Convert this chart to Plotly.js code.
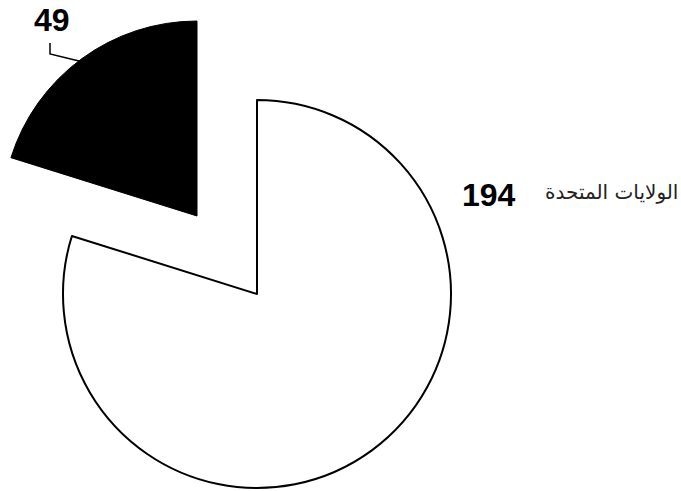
<!DOCTYPE html>
<html>
<head>
<meta charset="utf-8">
<script src="https://cdn.plot.ly/plotly-3.0.1.min.js"></script>
<style>html,body{margin:0;padding:0;background:#fff;overflow:hidden}#chart{width:681px;height:491px}</style>
</head>
<body>
<div id="chart"></div>
<script>
// Data
const labels = ['الولايات المتحدة', 'أخرى'];
const values = [194, 49];
const sliceColors = ['#ffffff', '#000000'];

const W = 681, H = 491;
// pixel helpers for layout placement
function dom(cx, cy, r) {
  return {x: [(cx - r) / W, (cx + r) / W], y: [1 - (cy + r) / H, 1 - (cy - r) / H]};
}

const clear = 'rgba(0,0,0,0)';
const main = {
  type: 'pie', labels: labels, values: values, sort: false,
  direction: 'clockwise', rotation: 0, textinfo: 'none', hoverinfo: 'label+value',
  marker: {colors: [sliceColors[0], clear], line: {color: ['#000', clear], width: [2, 0]}},
  domain: dom(257, 294, 194), showlegend: false
};
const pulled = {
  type: 'pie', labels: labels, values: values, sort: false,
  direction: 'clockwise', rotation: 0, textinfo: 'none', hoverinfo: 'label+value',
  marker: {colors: [clear, sliceColors[1]], line: {color: [clear, '#000'], width: [0, 1]}},
  domain: dom(197, 216, 195), showlegend: false
};

const px = (x) => x / W, py = (y) => 1 - y / H;
const layout = {
  width: W, height: H,
  margin: {l: 0, r: 0, t: 0, b: 0},
  paper_bgcolor: '#fff',
  showlegend: false,
  annotations: [
    {xref: 'paper', yref: 'paper', x: px(52), y: py(20), text: '<b>' + values[1] + '</b>', showarrow: false,
     xanchor: 'center', yanchor: 'middle', font: {family: 'Liberation Sans, Arial, sans-serif', size: 32, color: '#000'}},
    {xref: 'paper', yref: 'paper', x: px(489), y: py(195), text: '<b>' + values[0] + '</b>', showarrow: false,
     xanchor: 'center', yanchor: 'middle', font: {family: 'Liberation Sans, Arial, sans-serif', size: 32, color: '#000'}},
    {xref: 'paper', yref: 'paper', x: px(680), y: py(192), text: labels[0], showarrow: false,
     xanchor: 'right', yanchor: 'middle', font: {family: 'DejaVu Sans, sans-serif', size: 20, color: '#222'}}
  ],
  shapes: [
    {type: 'path', xref: 'paper', yref: 'paper',
     path: 'M ' + px(50) + ',' + py(43) + ' L ' + px(50) + ',' + py(54) + ' L ' + px(79) + ',' + py(61),
     line: {color: '#000', width: 1.5}}
  ]
};

Plotly.newPlot('chart', [main, pulled], layout, {displayModeBar: false, staticPlot: true});
</script>
</body>
</html>
